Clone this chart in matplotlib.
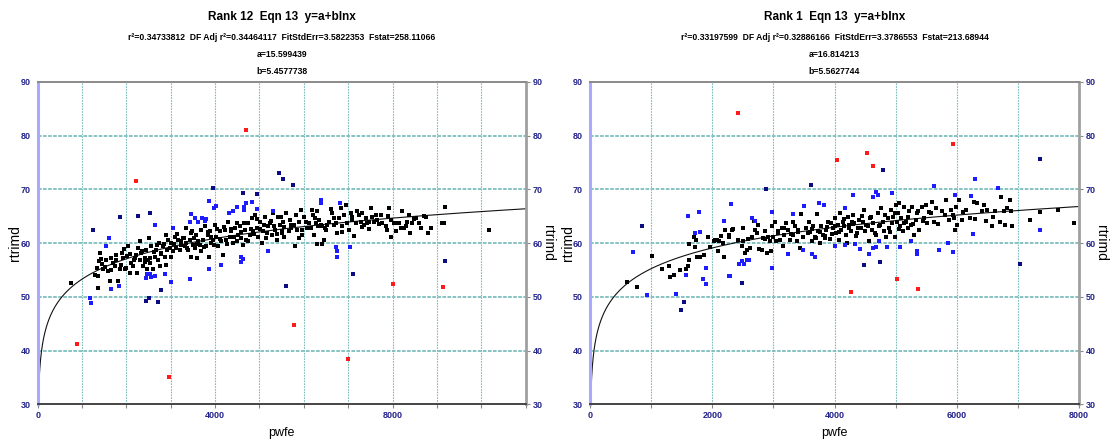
import numpy as np
import matplotlib
matplotlib.use('Agg')
import matplotlib.pyplot as plt
from matplotlib.ticker import MultipleLocator

plt.rcParams['font.family'] = ['Liberation Sans', 'DejaVu Sans']

C_TICK = '#23238c'
C_GRID = '#7dbdbd'
C_BLUE = '#1c1cff'
C_NAVY = '#0c0c82'
C_RED = '#ff1a1a'

# ---------------- left panel (Rank 12) ----------------
left_title = 'Rank 12  Eqn 13  y=a+blnx'
left_stats = 'r²=0.34733812  DF Adj r²=0.34464117  FitStdErr=3.5822353  Fstat=258.11066'
left_a = 15.599439
left_b = 5.4577738

left_black_x = [
    759, 1398, 1383, 1286, 1361, 1361, 1346, 1459, 1549, 1474, 1586, 1624, 1662, 1699,
    1737, 1774, 1812, 1850, 1872, 1925, 1962, 1940, 2038, 2000, 2075, 2113, 2150, 2188,
    2226, 2241, 2301, 2316, 2338, 2376, 2414, 2451, 2466, 2489, 2511, 2526, 2564, 2602,
    2639, 2677, 2714, 2737, 2752, 2790, 2827, 2865, 2887, 2902, 2917, 2978, 3015, 3053,
    3090, 3128, 3166, 3203, 3241, 3278, 3316, 3339, 3354, 3391, 3429, 3466, 3489, 3504,
    3542, 3579, 3594, 3617, 3654, 3692, 3730, 3767, 3805, 3842, 3865, 3880, 3918, 3955,
    3993, 4030, 4068, 4106, 4143, 4181, 4218, 4256, 4294, 4331, 4369, 4406, 4444, 4482,
    4519, 4557, 4594, 4632, 4670, 4707, 4745, 4782, 4820, 4858, 4895, 4933, 4970, 5008,
    5046, 5083, 5121, 5158, 5196, 5234, 5271, 5309, 5346, 5384, 5422, 5459, 5497, 5534,
    5474, 5587, 5512, 5549, 5685, 5662, 5700, 5775, 5812, 5790, 5850, 5888, 5940, 5963,
    5963, 6000, 6061, 6113, 6151, 6188, 6211, 6226, 6264, 6301, 6301, 6316, 6339, 6376,
    6414, 6414, 6452, 6467, 6527, 6564, 6602, 6640, 6677, 6715, 6752, 6790, 6828, 6865,
    6903, 6940, 6978, 7016, 7053, 7091, 7128, 7166, 7204, 7241, 7279, 7316, 7354, 7392,
    7429, 7467, 7504, 7542, 7580, 7617, 7655, 7730, 7768, 7843, 7880, 7918, 7956, 7956,
    8031, 8068, 8106, 8144, 8219, 8256, 8294, 8332, 8369, 8392, 8444, 8520, 8595, 8632,
    8745, 8798, 8858, 9106, 9159, 9174, 10174,
    # second pass through the dense band
    1420, 1510, 1650, 1760, 1890, 2010, 2090, 2170, 2260, 2350, 2430, 2540, 2620, 2700,
    2770, 2850, 2940, 3000, 3070, 3150, 3220, 3300, 3370, 3450, 3520, 3600, 3680, 3750,
    3830, 3900, 3970, 4050, 4120, 4200, 4270, 4350, 4420, 4500, 4580, 4650, 4730, 4800,
    4880, 4950, 5020, 5100, 5180, 5250, 5330, 5400, 5560, 5720, 5880, 6050, 6250, 6500,
    6680, 6850, 7080, 7300, 7480, 7700, 7900, 8180, 8480, 8700,
]
left_black_y = [
    52.5, 58.2, 56.6, 54.1, 53.8, 51.7, 55.4, 56.1, 56.9, 55.1, 54.8, 52.9, 57.2, 56.3,
    55.7, 56.9, 52.9, 55.1, 56.0, 57.2, 55.1, 58.9, 59.5, 55.4, 54.5, 56.3, 55.7, 57.2,
    57.8, 54.5, 56.9, 60.3, 58.2, 55.7, 57.2, 58.8, 55.1, 56.9, 60.9, 56.3, 59.4, 55.1,
    57.5, 58.8, 56.9, 60.0, 55.7, 58.2, 59.4, 57.5, 61.5, 56.0, 58.8, 59.1, 60.1, 58.5,
    61.2, 59.1, 60.6, 58.8, 60.3, 60.9, 59.4, 62.8, 60.1, 58.8, 60.6, 57.5, 62.2, 59.7,
    59.1, 61.5, 57.2, 60.3, 59.7, 58.5, 60.6, 63.1, 59.4, 61.5, 57.5, 62.2, 60.0, 60.6,
    63.4, 61.2, 59.4, 62.2, 60.3, 57.8, 62.5, 60.6, 64.0, 61.2, 62.2, 60.0, 62.8, 60.3,
    61.5, 63.1, 60.9, 59.7, 62.5, 60.6, 63.7, 61.5, 64.6, 62.2, 65.3, 62.8, 61.2, 64.0,
    60.0, 62.2, 64.9, 60.9, 63.1, 63.7, 61.5, 65.6, 62.5, 60.6, 64.9, 63.4, 61.9, 64.0,
    64.9, 65.6, 62.2, 61.1, 64.3, 62.2, 63.4, 63.4, 65.3, 59.5, 62.5, 64.0, 66.2, 62.5,
    61.5, 64.9, 62.8, 63.7, 62.8, 66.2, 65.3, 61.5, 63.7, 65.9, 59.9, 63.1, 64.3, 63.4,
    63.1, 59.9, 60.6, 62.8, 63.4, 64.0, 66.3, 65.6, 63.4, 63.7, 61.9, 64.6, 66.5, 63.1,
    65.3, 67.1, 63.7, 62.5, 65.6, 64.3, 61.4, 63.7, 65.9, 65.3, 64.0, 65.6, 63.4, 64.6,
    63.7, 64.0, 66.5, 64.9, 64.0, 65.3, 64.3, 65.3, 63.7, 63.1, 62.5, 66.5, 61.2, 64.3,
    63.7, 62.2, 63.7, 63.7, 65.9, 62.8, 63.1, 64.0, 65.3, 61.9, 63.7, 64.6, 63.7, 62.8,
    64.9, 61.9, 62.8, 63.7, 63.8, 66.8, 62.5,
    57.0, 55.6, 55.0, 57.8, 58.2, 57.6, 58.0, 56.8, 59.0, 58.6, 56.4, 57.3, 58.4, 59.6,
    57.9, 59.8, 60.5, 57.4, 59.9, 61.6, 59.6, 61.0, 59.0, 61.8, 61.0, 59.8, 62.4, 59.2,
    62.0, 61.2, 59.6, 62.6, 60.8, 63.0, 59.8, 62.6, 61.2, 63.8, 62.0, 63.8, 60.4, 62.6,
    61.6, 64.4, 62.6, 63.4, 61.8, 64.2, 63.2, 61.6, 63.0, 62.8, 61.0, 64.0, 64.6, 62.4,
    64.6, 62.0, 64.8, 63.0, 62.6, 63.6, 65.0, 62.8, 64.4, 65.0,
]

left_blue_x = [1173, 1195, 1549, 1601, 1662, 1835, 2436, 2466, 2526, 2564, 2639, 2654,
               2865, 3015, 3053, 3429, 3466, 3429, 3542, 3617, 3715, 3775, 3805, 3857,
               3865, 3978, 4030, 4136, 4316, 4406, 4504, 4647, 4692, 4655, 4820, 4933,
               4594, 4632, 4579, 5196, 5294, 6376, 6376, 6805, 6715, 6752, 6752, 7030]
left_blue_y = [49.8, 48.8, 59.5, 60.9, 51.4, 52.1, 53.5, 54.3, 54.3, 53.7, 63.4, 53.9,
               54.3, 52.7, 62.9, 53.3, 65.4, 64.0, 64.6, 64.0, 64.6, 64.2, 64.4, 67.9,
               55.1, 66.5, 66.9, 56.0, 65.6, 65.9, 66.8, 66.2, 67.5, 66.7, 67.7, 66.3,
               57.4, 57.0, 56.5, 58.6, 65.9, 68.0, 67.5, 67.4, 59.2, 58.5, 57.4, 59.2]

left_navy_x = [1248, 1865, 2256, 2541, 2782, 2436, 2504, 2714, 3955, 4632, 4933,
               5444, 5534, 5594, 5760, 7113, 9181]
left_navy_y = [62.5, 64.8, 65.1, 65.6, 51.2, 49.3, 49.8, 49.0, 70.2, 69.3, 69.1,
               73.1, 71.9, 52.0, 70.8, 54.3, 56.7]

left_red_x = [878, 2218, 2957, 4691, 5780, 6996, 8016, 9136]
left_red_y = [41.2, 71.5, 35.1, 81.1, 44.7, 38.5, 52.4, 51.9]

# ---------------- right panel (Rank 1) ----------------
right_title = 'Rank 1  Eqn 13  y=a+blnx'
right_stats = 'r²=0.33197599  DF Adj r²=0.32886166  FitStdErr=3.3786553  Fstat=213.68944'
right_a = 16.814213
right_b = 5.5627744

right_black_x = [
    599, 761, 1022, 1180, 1288, 1304, 1370, 1478, 1576, 1598, 1614, 1614, 1695, 1723,
    1739, 1750, 1793, 1858, 1923, 1967, 2021, 2048, 2076, 2103, 2086, 2141, 2173, 2184,
    2211, 2266, 2282, 2320, 2347, 2428, 2483, 2510, 2510, 2537, 2564, 2591, 2619, 2646,
    2684, 2700, 2754, 2771, 2809, 2836, 2863, 2890, 2917, 2944, 2955, 2971, 2999, 3026,
    3042, 3080, 3107, 3134, 3151, 3172, 3205, 3243, 3270, 3314, 3324, 3352, 3379, 3406,
    3433, 3460, 3487, 3531, 3585, 3607, 3628, 3650, 3677, 3715, 3732, 3759, 3786, 3813,
    3840, 3867, 3895, 3922,
    3946, 3973, 4000, 4028, 4055, 4071, 4093, 4109, 4136, 4163, 4180, 4201, 4218, 4245,
    4272, 4288, 4310, 4326, 4353, 4381, 4397, 4435, 4462, 4478, 4505, 4543, 4560, 4581,
    4614, 4636, 4679, 4706, 4733, 4761, 4788, 4815, 4842, 4869, 4896, 4924, 4940, 4962,
    4983, 5005, 5021, 5038, 5059, 5070, 5086, 5114, 5141, 5168, 5195, 5222, 5249, 5276,
    5304, 5331, 5358, 5385, 5429, 5467, 5494, 5521, 5575, 5602, 5630, 5657, 5754, 5830,
    5874, 5901, 5939, 5972, 5983, 6010, 6037, 6080, 6145, 6210, 6281, 6335, 6417, 6471,
    6498, 6569, 6634, 6716, 6732, 6770, 6797, 6878, 6895, 6906, 7193, 7356, 7655, 7926,
    # second pass through the dense band
    3560, 3640, 3700, 3770, 3850, 3880, 3960, 4010, 4080, 4150, 4230, 4300, 4370, 4450,
    4520, 4600, 4660, 4750, 4830, 4910, 4990, 5050, 5130, 5210, 5290, 5370, 5450, 5540,
    5690, 5800, 5960, 6110, 6300, 6440, 6600, 6820, 3080, 3180, 3290, 3400, 2860, 2740,
]
right_black_y = [
    52.7, 51.9, 57.6, 55.1, 55.8, 53.7, 54.1, 54.9, 55.1, 55.8, 56.9, 59.9, 61.1, 59.3,
    60.5, 57.4, 57.5, 57.8, 61.1, 59.3, 60.3, 60.5, 60.6, 60.3, 58.5, 61.4, 60.1, 57.5,
    62.4, 61.5, 61.2, 62.5, 62.7, 60.6, 59.4, 62.8, 60.3, 58.2, 58.8, 60.7, 59.1, 61.2,
    64.1, 62.4, 63.4, 58.9, 58.8, 60.9, 62.2, 58.2, 61.1, 60.3, 58.5, 63.1, 61.2, 64.0,
    60.3, 62.2, 60.6, 62.8, 59.4, 61.5, 63.7, 62.5, 60.6, 64.0, 61.5, 63.1, 60.3, 62.0,
    59.1, 65.4, 61.2, 62.8, 64.0, 62.0, 60.3, 63.1, 61.2, 65.4, 62.2, 60.0, 63.2, 61.5,
    60.9, 62.5, 64.0, 60.7,
    63.7, 62.8, 64.6, 61.9, 63.4, 60.6, 65.6, 62.5, 64.0, 63.1, 61.5, 60.0, 64.9, 63.4,
    62.2, 64.0, 65.3, 63.7, 61.4, 62.8, 64.3, 62.8, 64.0, 66.2, 62.2, 63.1, 60.3, 64.6,
    62.5, 63.7, 61.5, 65.6, 63.1, 66.5, 64.0, 62.2, 61.2, 64.6, 62.8, 66.2, 63.7, 64.9,
    61.2, 67.1, 64.0, 65.6, 67.4, 63.1, 64.6, 62.2, 66.8, 64.0, 62.8, 65.9, 63.4, 66.8,
    61.5, 64.3, 65.6, 62.5, 66.8, 64.6, 67.1, 63.7, 65.6, 67.7, 64.0, 66.5, 65.9, 68.0,
    64.3, 66.2, 65.3, 62.5, 66.8, 63.4, 68.0, 64.3, 66.2, 64.6, 67.7, 67.5, 65.9, 64.2,
    66.2, 63.1, 65.9, 64.0, 68.6, 65.9, 63.4, 68.1, 65.9, 63.2, 64.3, 65.7, 66.1, 63.8,
    61.8, 62.6, 61.0, 62.0, 61.4, 63.0, 61.6, 63.2, 62.0, 64.4, 62.8, 63.6, 61.8, 65.0,
    63.4, 64.8, 61.8, 63.4, 65.2, 62.0, 65.6, 62.6, 63.8, 64.8, 63.6, 66.0, 64.2, 65.8,
    63.6, 65.2, 64.6, 65.8, 64.4, 67.0, 64.8, 66.6, 61.8, 62.8, 61.6, 62.4, 60.8, 61.9,
]

right_blue_x = [707, 930, 1413, 1571, 1609, 1788, 1723, 1804, 1902, 1842, 1902, 2200,
                2304, 2266, 2298, 2434, 2483, 2521, 2564, 2602, 2657, 2700, 2982, 2982,
                3243, 3314, 3498, 3477, 3640, 3683, 3742, 3824, 4299, 4174, 4636, 4679,
                4706, 4940, 5635, 5972, 6238, 6292, 6677, 7356, 6259, 4000, 4174, 4337,
                4418, 4560, 4636, 4679, 4723, 4853, 5070, 5255, 5342, 5358, 5711, 5858,
                5934]
right_blue_y = [58.3, 50.4, 50.6, 54.1, 65.1, 65.8, 61.9, 62.0, 55.3, 53.3, 52.4, 64.1,
                67.3, 53.9, 53.9, 56.1, 56.7, 56.1, 56.9, 56.8, 64.6, 64.1, 65.7, 55.3,
                58.0, 65.4, 66.9, 58.8, 58.0, 57.4, 67.4, 67.0, 68.9, 66.6, 68.5, 69.5,
                69.0, 69.3, 70.7, 69.0, 68.8, 72.0, 70.2, 62.4, 61.7, 59.5, 59.7, 59.8,
                58.9, 58.0, 59.1, 59.3, 60.3, 59.2, 59.2, 60.3, 58.6, 58.0, 58.8, 60.0,
                58.3]

right_navy_x = [843, 1543, 1484, 2874, 2488, 3623, 4799, 7041, 7356, 4478, 4750]
right_navy_y = [63.2, 49.1, 47.6, 70.1, 52.5, 70.9, 73.6, 56.1, 75.6, 56.0, 56.5]

right_red_x = [2413, 4041, 4526, 4635, 5943, 5022, 5365, 4265]
right_red_y = [84.2, 75.4, 76.7, 74.3, 78.5, 53.3, 51.5, 50.9]


def draw_panel(fig, rect, xmax, xmajor, title, stats, a, b,
               black, blue, navy, red):
    ax = fig.add_axes(rect)
    ax.set_xlim(0, xmax)
    ax.set_ylim(30, 90)

    ax.xaxis.set_major_locator(MultipleLocator(xmajor))
    ax.xaxis.set_minor_locator(MultipleLocator(1000))
    ax.yaxis.set_major_locator(MultipleLocator(10))

    # grid: light dotted verticals every 1000, dashed horizontals every 10
    for xv in np.arange(1000, xmax, 1000):
        ax.axvline(xv, color=C_GRID, lw=0.8, ls=(0, (1.5, 1.0)), zorder=0)
    for yv in np.arange(40, 90, 10):
        ax.axhline(yv, color=C_GRID, lw=1.3, ls=(0, (2.0, 0.8)), zorder=0)

    ax.spines['left'].set_color('#a9a9ff')
    ax.spines['left'].set_linewidth(2.2)
    ax.spines['top'].set_color('#8a8a8a')
    ax.spines['top'].set_linewidth(1.4)
    ax.spines['right'].set_color('#a0a0a0')
    ax.spines['right'].set_linewidth(2.0)
    ax.spines['bottom'].set_color('#444444')
    ax.spines['bottom'].set_linewidth(1.4)

    ax.tick_params(axis='y', which='both', left=False, right=True,
                   labelleft=True, labelright=True,
                   direction='out', length=3, width=0.8, color='#888888', pad=2,
                   labelsize=6.5, labelcolor=C_TICK)
    ax.tick_params(axis='x', which='both', direction='out', length=3, width=0.8,
                   color='#888888', pad=2, labelsize=6.5, labelcolor=C_TICK)
    for t in ax.xaxis.get_major_ticks() + ax.yaxis.get_major_ticks():
        t.label1.set_fontweight('bold')
        t.label2.set_fontweight('bold')

    # fitted curve y = a + b ln x
    xf = np.geomspace(5, xmax, 600)
    ax.plot(xf, a + b * np.log(xf), color='#111111', lw=0.8, zorder=2)

    ms = 2.6
    ax.plot(black[0], black[1], 's', color='black', ms=ms, mew=0, zorder=3)
    ax.plot(blue[0], blue[1], 's', color=C_BLUE, ms=ms, mew=0, zorder=3)
    ax.plot(navy[0], navy[1], 's', color=C_NAVY, ms=ms, mew=0, zorder=3)
    ax.plot(red[0], red[1], 's', color=C_RED, ms=ms, mew=0, zorder=3)

    ax.set_xlabel('pwfe', fontsize=9, labelpad=5)
    ax.text(-0.046, 0.5, 'rtrimd', transform=ax.transAxes, rotation=90,
            ha='center', va='center', fontsize=10)
    ax.text(1.046, 0.5, 'rtrimd', transform=ax.transAxes, rotation=270,
            ha='center', va='center', fontsize=10)

    cx = rect[0] + rect[2] / 2
    fig.text(cx, 0.962, title, ha='center', va='center',
             fontsize=8.5, fontweight='bold')
    for yy, txt in ((0.917, stats), (0.877, f'a={a}'), (0.839, f'b={b}')):
        fig.text(cx, yy, txt, ha='center', va='center',
                 fontsize=6.2, fontweight='bold')
    return ax


fig = plt.figure(figsize=(11.12, 4.46), dpi=100)

draw_panel(fig, [0.0339, 0.0935, 0.4388, 0.7229], 11000, 4000,
           left_title, left_stats, left_a, left_b,
           (left_black_x, left_black_y), (left_blue_x, left_blue_y),
           (left_navy_x, left_navy_y), (left_red_x, left_red_y))

draw_panel(fig, [0.5306, 0.0935, 0.4397, 0.7229], 8000, 2000,
           right_title, right_stats, right_a, right_b,
           (right_black_x, right_black_y), (right_blue_x, right_blue_y),
           (right_navy_x, right_navy_y), (right_red_x, right_red_y))

fig.savefig('out.png', dpi=100, facecolor='white')
